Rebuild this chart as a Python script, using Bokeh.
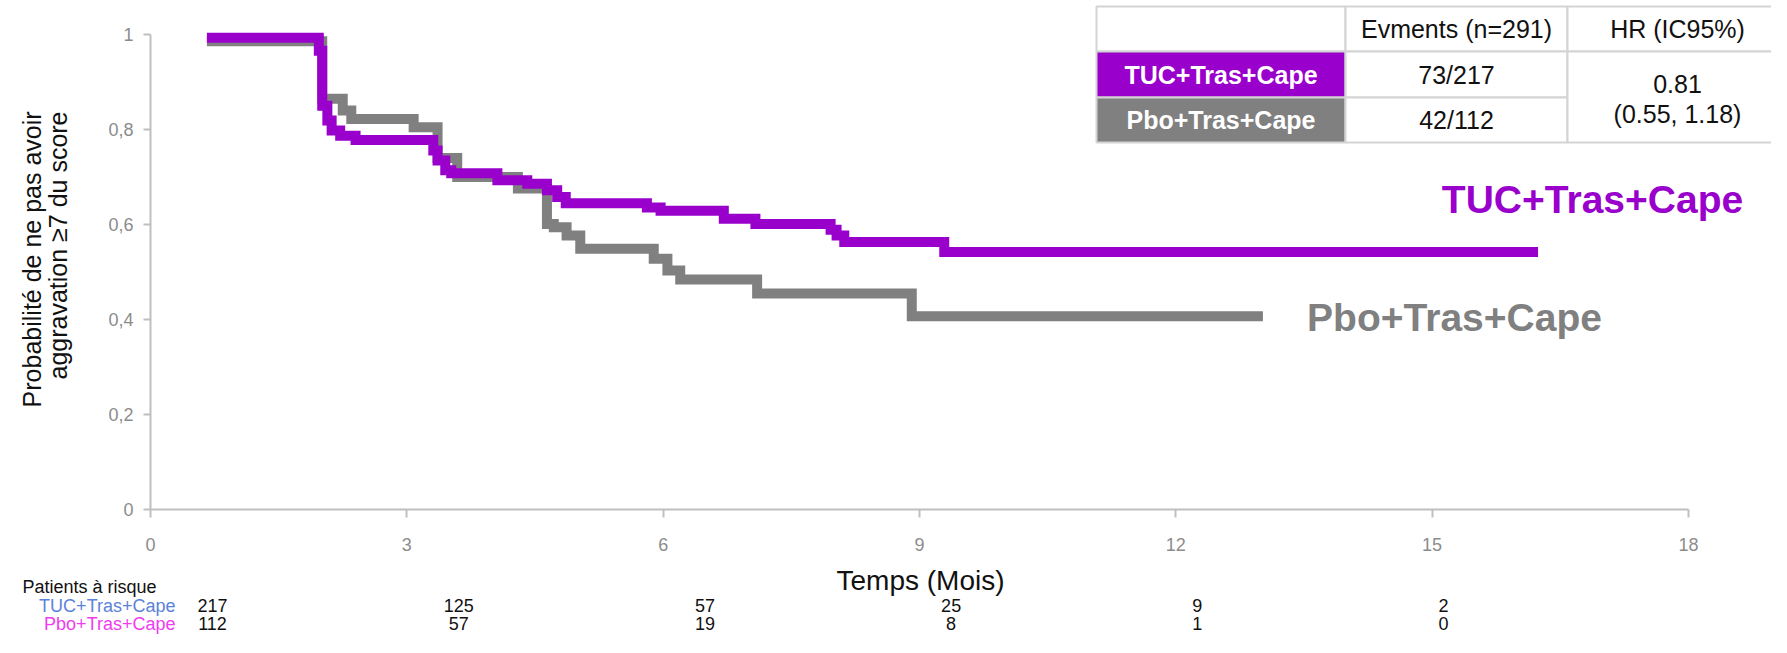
import numpy as np
from bokeh.plotting import figure
from bokeh.models import Range1d, FixedTicker, CustomJSTickFormatter
from bokeh.core.properties import value
from bokeh.embed import file_html
from bokeh.resources import INLINE

# ---------------- data ----------------
tuc_time = [0.66, 1.97, 2.01, 2.07, 2.12, 2.22, 2.40, 3.31, 3.36, 3.45, 3.52, 4.06, 4.41,
            4.64, 4.76, 4.86, 5.81, 5.97, 6.71, 7.08, 7.96, 8.03, 8.12, 9.29, 16.24]
tuc_surv = [0.993, 0.966, 0.850, 0.819, 0.798, 0.787, 0.778, 0.756, 0.735, 0.714, 0.708, 0.693, 0.686,
            0.672, 0.658, 0.645, 0.636, 0.629, 0.612, 0.601, 0.589, 0.577, 0.563, 0.542, 0.542]
pbo_time = [0.66, 2.01, 2.25, 2.35, 3.08, 3.36, 3.59, 4.30, 4.64, 4.72, 4.87, 5.03, 5.89,
            6.05, 6.20, 7.10, 8.91, 13.02]
pbo_surv = [0.986, 0.865, 0.840, 0.822, 0.805, 0.740, 0.700, 0.676, 0.601, 0.594, 0.577, 0.549, 0.528,
            0.503, 0.484, 0.455, 0.407, 0.407]

x_ticks = [0, 3, 6, 9, 12, 15, 18]
y_ticks = [0, 0.2, 0.4, 0.6, 0.8, 1.0]
risk_months = [0, 3, 6, 9, 12, 15]
tuc_risk = [217, 125, 57, 25, 9, 2]
pbo_risk = [112, 57, 19, 8, 1, 0]
arms = ["TUC+Tras+Cape", "Pbo+Tras+Cape"]
events = ["73/217", "42/112"]
table_header = ["Evments (n=291)", "HR (IC95%)"]
hr_lines = ["0.81", "(0.55, 1.18)"]
risk_title = "Patients à risque"
x_title = "Temps (Mois)"
y_title = ["Probabilité  de  ne  pas  avoir", "aggravation ≥7 du score"]

# ---------------- layout (canvas pixels) ----------------
W, H = 1771, 637
X0_PX = 150.0        # canvas x of month 0
PX_MONTH = 85.44
Y0_PX = 509.0        # canvas y of probability 0
PX_UNIT = 475.0

FONT = "Liberation Sans"
PURPLE = "#9900CC"
GREY = "#808080"


def tx(px):
    return (px - X0_PX) / PX_MONTH


def ty(py):
    return (Y0_PX - py) / PX_UNIT


left_border = int(X0_PX)
bottom_border = int(H - Y0_PX)
x_end = (W - left_border) / PX_MONTH
y_end = Y0_PX / PX_UNIT

p = figure(width=W, height=H, output_backend="svg", toolbar_location=None,
           x_range=Range1d(0, x_end), y_range=Range1d(0, y_end),
           min_border_left=left_border, min_border_right=0,
           min_border_top=0, min_border_bottom=bottom_border)
p.outline_line_color = None
p.xgrid.visible = False
p.ygrid.visible = False
p.background_fill_color = "white"
p.border_fill_color = "white"

for ax in (p.xaxis[0], p.yaxis[0]):
    ax.axis_line_color = "#BFBFBF"
    ax.axis_line_width = 2
    ax.major_tick_line_color = "#BFBFBF"
    ax.major_tick_line_width = 2
    ax.minor_tick_line_color = None
    ax.major_tick_in = 0
    ax.major_label_text_color = "#8C8C8C"
    ax.major_label_text_font = FONT
    ax.major_label_text_font_size = "18px"

p.xaxis.ticker = FixedTicker(ticks=x_ticks)
p.xaxis.bounds = (0, 18)
p.xaxis.major_tick_out = 8
p.xaxis.major_label_standoff = 20

p.yaxis.ticker = FixedTicker(ticks=y_ticks)
p.yaxis.bounds = (0, 1)
p.yaxis.major_tick_out = 7
p.yaxis.major_label_standoff = 10
p.yaxis.formatter = CustomJSTickFormatter(code="""
    if (Math.abs(tick) < 1e-9) return "0";
    if (Math.abs(tick - 1) < 1e-9) return "1";
    return tick.toFixed(1).replace('.', ',');
""")

# ---------------- curves ----------------
p.step(x=pbo_time, y=pbo_surv, mode="after", line_color=GREY, line_width=10,
       line_join="miter", line_cap="butt")
p.step(x=tuc_time, y=tuc_surv, mode="after", line_color=PURPLE, line_width=10,
       line_join="miter", line_cap="butt")


def txt(xs, ys, texts, size, color, align="center", bold=False, angle=0.0):
    r = p.text(x=xs, y=ys, text=texts, text_font=value(FONT),
               text_font_size=value(size), text_color=color, text_align=align,
               text_baseline="middle", angle=angle,
               text_font_style="bold" if bold else "normal")
    r.level = "overlay"
    return r


# curve end labels
txt([tx(1592)], [ty(199)], [arms[0]], "39px", PURPLE, bold=True)
txt([tx(1454)], [ty(317)], [arms[1]], "39px", GREY, bold=True)

# axis titles
txt([tx(920)], [ty(580)], [x_title], "28px", "#111111")
txt([tx(31), tx(57)], [ty(245), ty(245)], y_title, "25px", "#111111", angle=np.pi / 2)

# ---------------- table ----------------
col = [1096, 1345, 1567, 1790]
row = [6, 51, 97, 142]
ql, qr, qt, qb, qc = [], [], [], [], []
cells = [
    (0, 1, 0, 1, "white"), (1, 2, 0, 1, "white"), (2, 3, 0, 1, "white"),
    (0, 1, 1, 2, PURPLE), (1, 2, 1, 2, "white"),
    (0, 1, 2, 3, GREY), (1, 2, 2, 3, "white"),
    (2, 3, 1, 3, "white"),
]
for c0, c1, r0, r1, fc in cells:
    ql.append(tx(col[c0])); qr.append(tx(col[c1]))
    qt.append(ty(row[r0])); qb.append(ty(row[r1])); qc.append(fc)
tq = p.quad(left=ql, right=qr, top=qt, bottom=qb, fill_color=qc,
            line_color="#D4D4D4", line_width=2)
tq.level = "overlay"

c_mid = [(col[i] + col[i + 1]) / 2 for i in range(3)]
c_mid[2] = 1677
r_mid = [(row[i] + row[i + 1]) / 2 for i in range(3)]
txt([tx(c_mid[1]), tx(c_mid[2])], [ty(r_mid[0]), ty(r_mid[0])], table_header, "25px", "#111111")
txt([tx(c_mid[0])] * 2, [ty(r_mid[1]), ty(r_mid[2])], arms, "25px", "white", bold=True)
txt([tx(c_mid[1])] * 2, [ty(r_mid[1]), ty(r_mid[2])], events, "25px", "#111111")
txt([tx(c_mid[2])] * 2, [ty(83), ty(113)], hr_lines, "25px", "#111111")

# ---------------- patients at risk ----------------
RISK_X0 = 212.0
RISK_DX = 82.07
ROW1_Y, ROW2_Y = 605, 623
risk_x = [tx(RISK_X0 + RISK_DX * m) for m in risk_months]
txt([tx(22)], [ty(586)], [risk_title], "18px", "#111111", align="left")
txt([tx(175)], [ty(ROW1_Y)], [arms[0]], "18px", "#5B82D9", align="right")
txt([tx(175)], [ty(ROW2_Y)], [arms[1]], "18px", "#F03CF0", align="right")
txt(risk_x, [ty(ROW1_Y)] * len(risk_x), [str(v) for v in tuc_risk], "18px", "#111111")
txt(risk_x, [ty(ROW2_Y)] * len(risk_x), [str(v) for v in pbo_risk], "18px", "#111111")

open("out.html", "w").write(file_html(p, INLINE))
